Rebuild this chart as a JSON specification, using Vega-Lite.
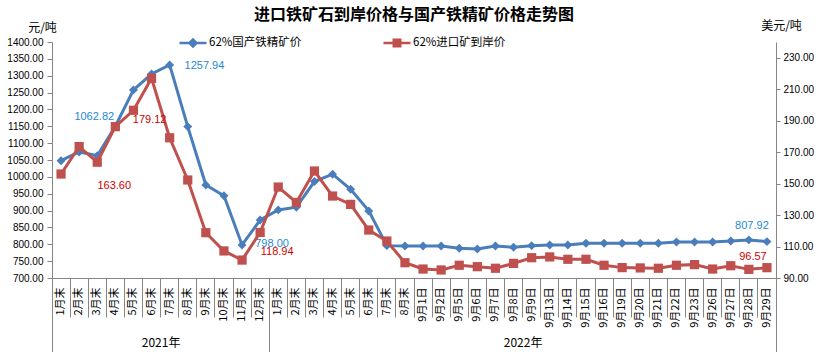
{
  "$schema": "https://vega.github.io/schema/vega-lite/v6.json",
  "autosize": {"type": "none"},
  "padding": {"left": 52, "top": 42, "right": 49, "bottom": 74},
  "width": 724,
  "height": 236,
  "background": "white",
  "title": {"text": "进口铁矿石到岸价格与国产铁精矿价格走势图", "font": "Noto Sans CJK JP", "fontSize": 16, "fontWeight": "bold", "color": "#000000", "anchor": "middle", "offset": -4},
  "config": {
    "view": {"stroke": null},
    "axis": {"domainColor": "#868686", "tickColor": "#868686", "labelColor": "#000000", "grid": false}
  },
  "data": {"values": [
    {"key": "2021-1月末", "dom": 1048, "imp": 156.1},
    {"key": "2021-2月末", "dom": 1074, "imp": 173.5},
    {"key": "2021-3月末", "dom": 1062.82, "imp": 163.60},
    {"key": "2021-4月末", "dom": 1150, "imp": 186.2},
    {"key": "2021-5月末", "dom": 1257.94, "imp": 196.6},
    {"key": "2021-6月末", "dom": 1305, "imp": 216.9},
    {"key": "2021-7月末", "dom": 1332, "imp": 179.12},
    {"key": "2021-8月末", "dom": 1149, "imp": 152.3},
    {"key": "2021-9月末", "dom": 976, "imp": 118.8},
    {"key": "2021-10月末", "dom": 944, "imp": 107.2},
    {"key": "2021-11月末", "dom": 798.00, "imp": 101.4},
    {"key": "2021-12月末", "dom": 872, "imp": 118.94},
    {"key": "2022-1月末", "dom": 902, "imp": 147.8},
    {"key": "2022-2月末", "dom": 910, "imp": 138.0},
    {"key": "2022-3月末", "dom": 986, "imp": 158.0},
    {"key": "2022-4月末", "dom": 1008, "imp": 142.1},
    {"key": "2022-5月末", "dom": 963, "imp": 136.8},
    {"key": "2022-6月末", "dom": 899, "imp": 120.5},
    {"key": "2022-7月末", "dom": 796, "imp": 113.5},
    {"key": "2022-8月末", "dom": 795, "imp": 99.7},
    {"key": "2022-9月1日", "dom": 795, "imp": 95.7},
    {"key": "2022-9月2日", "dom": 795, "imp": 95.1},
    {"key": "2022-9月5日", "dom": 788, "imp": 98.1},
    {"key": "2022-9月6日", "dom": 786, "imp": 97.2},
    {"key": "2022-9月7日", "dom": 795, "imp": 96.2},
    {"key": "2022-9月8日", "dom": 791, "imp": 99.3},
    {"key": "2022-9月9日", "dom": 796, "imp": 102.9},
    {"key": "2022-9月13日", "dom": 798, "imp": 103.4},
    {"key": "2022-9月14日", "dom": 798, "imp": 101.9},
    {"key": "2022-9月15日", "dom": 803, "imp": 101.9},
    {"key": "2022-9月16日", "dom": 803, "imp": 98.1},
    {"key": "2022-9月19日", "dom": 803, "imp": 96.6},
    {"key": "2022-9月20日", "dom": 803, "imp": 96.4},
    {"key": "2022-9月21日", "dom": 803, "imp": 96.2},
    {"key": "2022-9月22日", "dom": 807, "imp": 98.1},
    {"key": "2022-9月23日", "dom": 807, "imp": 98.5},
    {"key": "2022-9月26日", "dom": 807, "imp": 95.7},
    {"key": "2022-9月27日", "dom": 810, "imp": 97.8},
    {"key": "2022-9月28日", "dom": 813, "imp": 95.5},
    {"key": "2022-9月29日", "dom": 807.92, "imp": 96.57}
  ]},
  "layer": [
    {
      "encoding": {
        "x": {"field": "key", "type": "nominal", "sort": null, "bandPosition": 0.5,
          "scale": {"type": "band", "paddingInner": 0, "paddingOuter": 0},
          "axis": {"title": null, "bandPosition": 0, "tickSize": 39, "labelAngle": -90, "labelPadding": -30,
            "labelExpr": "slice(datum.label, 5)", "labelOverlap": false, "labelFont": "Noto Sans CJK SC", "labelFontSize": 11}},
        "y": {"field": "dom", "type": "quantitative",
          "scale": {"domain": [700, 1400], "nice": false, "zero": false},
          "axis": {"values": [700, 750, 800, 850, 900, 950, 1000, 1050, 1100, 1150, 1200, 1250, 1300, 1350, 1400], "format": ".2f",
            "tickSize": 5, "labelPadding": 4, "labelFont": "Liberation Sans", "labelFontSize": 10,
            "title": "元/吨", "titleAngle": 0, "titleX": -10, "titleY": -15, "titleAlign": "center", "titleBaseline": "middle",
            "titleFont": "Noto Sans CJK SC", "titleFontSize": 12, "titleFontWeight": "normal"}}
      },
      "layer": [
        {"mark": {"type": "line", "strokeWidth": 3},
         "encoding": {"color": {"datum": "62%国产铁精矿价", "scale": {"range": ["#4A7EBB"]},
           "legend": {"orient": "none", "legendX": 126, "legendY": -14, "title": null, "padding": 0,
             "symbolType": "M-1,0H1M-0.26,0L0,-0.26L0.26,0L0,0.26Z", "symbolSize": 729, "symbolStrokeWidth": 2.5,
             "symbolFillColor": "#4A7EBB", "symbolStrokeColor": "#4A7EBB", "labelFont": "Noto Sans CJK JP", "labelFontSize": 11.5, "labelOffset": 1, "labelColor": "#000000"}}}},
        {"mark": {"type": "point", "shape": "diamond", "filled": true, "size": 80, "color": "#4A7EBB", "opacity": 1}},
        {"transform": [{"filter": "datum.key == '2021-3月末'"}],
         "mark": {"type": "text", "dx": -3, "dy": -39, "color": "#1E88D8", "font": "Liberation Sans", "fontSize": 11},
         "encoding": {"text": {"field": "dom", "format": ".2f"}}},
        {"transform": [{"filter": "datum.key == '2021-5月末'"}],
         "mark": {"type": "text", "dx": 71, "dy": -24, "color": "#1E88D8", "font": "Liberation Sans", "fontSize": 11},
         "encoding": {"text": {"field": "dom", "format": ".2f"}}},
        {"transform": [{"filter": "datum.key == '2021-11月末'"}],
         "mark": {"type": "text", "dx": 30, "dy": -1, "color": "#1E88D8", "font": "Liberation Sans", "fontSize": 11},
         "encoding": {"text": {"field": "dom", "format": ".2f"}}},
        {"transform": [{"filter": "datum.key == '2022-9月29日'"}],
         "mark": {"type": "text", "dx": -15, "dy": -16, "color": "#1E88D8", "font": "Liberation Sans", "fontSize": 11},
         "encoding": {"text": {"field": "dom", "format": ".2f"}}}
      ]
    },
    {
      "encoding": {
        "x": {"field": "key", "type": "nominal", "sort": null, "bandPosition": 0.5,
          "scale": {"type": "band", "paddingInner": 0, "paddingOuter": 0}, "axis": null},
        "y": {"field": "imp", "type": "quantitative",
          "scale": {"domain": [90, 240], "nice": false, "zero": false},
          "axis": {"orient": "right", "values": [90, 110, 130, 150, 170, 190, 210, 230], "format": ".2f",
            "tickSize": 4, "labelPadding": 3, "labelFont": "Liberation Sans", "labelFontSize": 10,
            "title": "美元/吨", "titleAngle": 0, "titleX": 5, "titleY": -17, "titleAlign": "center", "titleBaseline": "middle",
            "titleFont": "Noto Sans CJK SC", "titleFontSize": 12, "titleFontWeight": "normal"}}
      },
      "layer": [
        {"mark": {"type": "line", "strokeWidth": 3},
         "encoding": {"color": {"datum": "62%进口矿到岸价", "scale": {"range": ["#C0504D"]},
           "legend": {"orient": "none", "legendX": 330, "legendY": -14, "title": null, "padding": 0,
             "symbolType": "M-1,0H1M-0.24,-0.24H0.24V0.24H-0.24Z", "symbolSize": 729, "symbolStrokeWidth": 2.5,
             "symbolFillColor": "#C0504D", "symbolStrokeColor": "#C0504D", "labelFont": "Noto Sans CJK JP", "labelFontSize": 11.5, "labelOffset": 1, "labelColor": "#000000"}}}},
        {"mark": {"type": "point", "shape": "square", "filled": true, "size": 85, "color": "#C0504D", "opacity": 1}},
        {"transform": [{"filter": "datum.key == '2021-3月末'"}],
         "mark": {"type": "text", "dx": 17, "dy": 24, "color": "#D00000", "font": "Liberation Sans", "fontSize": 11},
         "encoding": {"text": {"field": "imp", "format": ".2f"}}},
        {"transform": [{"filter": "datum.key == '2021-7月末'"}],
         "mark": {"type": "text", "dx": -20, "dy": -18, "color": "#D00000", "font": "Liberation Sans", "fontSize": 11},
         "encoding": {"text": {"field": "imp", "format": ".2f"}}},
        {"transform": [{"filter": "datum.key == '2021-12月末'"}],
         "mark": {"type": "text", "dx": 17, "dy": 20, "color": "#D00000", "font": "Liberation Sans", "fontSize": 11},
         "encoding": {"text": {"field": "imp", "format": ".2f"}}},
        {"transform": [{"filter": "datum.key == '2022-9月29日'"}],
         "mark": {"type": "text", "dx": -14, "dy": -11, "color": "#D00000", "font": "Liberation Sans", "fontSize": 11},
         "encoding": {"text": {"field": "imp", "format": ".2f"}}}
      ]
    },
    {
      "data": {"values": [
        {"year": "2021年", "start": 0, "end": 12},
        {"year": "2022年", "start": 12, "end": 40}
      ]},
      "mark": {"type": "rect", "opacity": 0},
      "encoding": {
        "x": {"field": "start", "type": "quantitative",
          "scale": {"domain": [0, 40], "nice": false, "zero": false},
          "axis": {"orient": "bottom", "title": null, "domain": false, "grid": false, "values": [0, 6, 12, 26, 40],
            "labelExpr": "datum.value == 6 ? '2021年' : (datum.value == 26 ? '2022年' : '')",
            "tickSize": 74, "labelPadding": -15, "labelAngle": 0, "labelFlush": false, "labelOverlap": false,
            "tickOpacity": {"condition": {"test": "datum.value == 6 || datum.value == 26", "value": 0}, "value": 1},
            "labelFont": "Noto Sans CJK SC", "labelFontSize": 12}},
        "x2": {"field": "end"}
      }
    }
  ],
  "resolve": {"scale": {"x": "independent", "y": "independent", "color": "independent"}}
}
